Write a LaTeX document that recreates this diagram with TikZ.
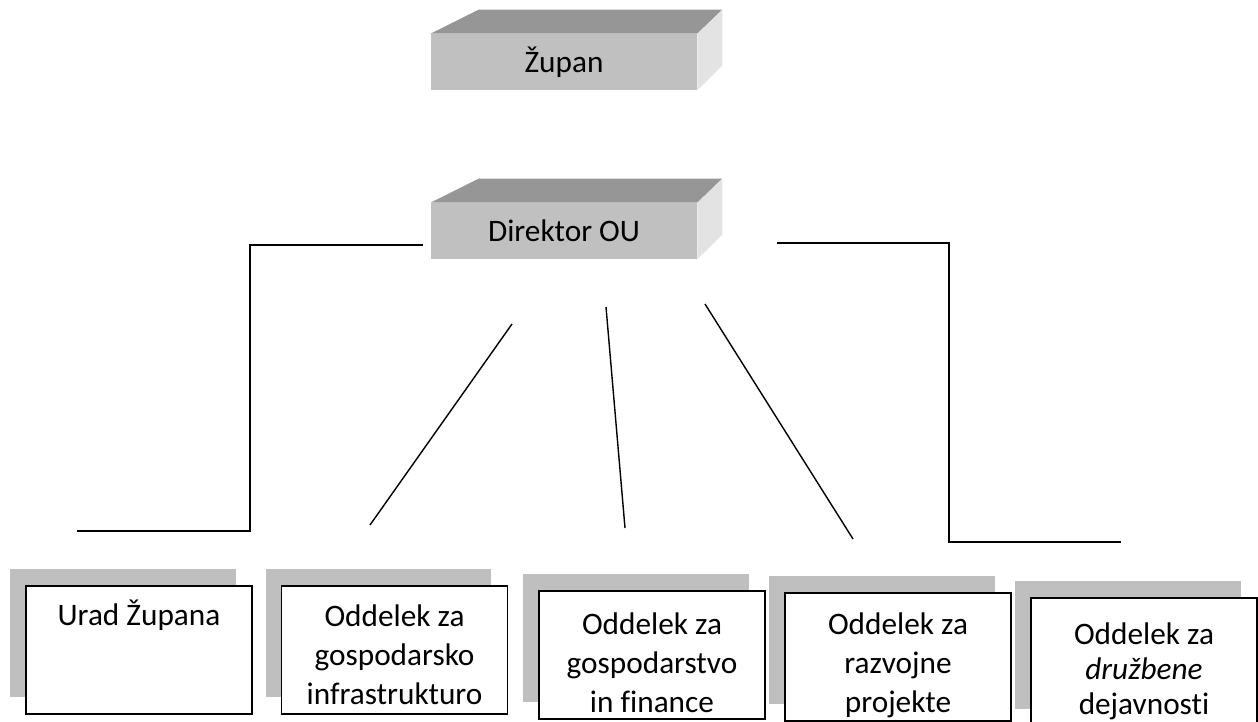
\documentclass[tikz,border=0pt]{standalone}
\usepackage{fontspec}
\setmainfont{Carlito}[Ligatures={NoCommon,NoContextual}]
\usetikzlibrary{shadows,calc}
\definecolor{frontgray}{HTML}{C0C0C0}
\definecolor{topgray}{HTML}{969696}
\definecolor{sidegray}{HTML}{E3E3E3}
\definecolor{shadowgray}{HTML}{BFBFBF}

\begin{document}
\begin{tikzpicture}[x=0.02cm, y=-0.02cm,
    bevel/.style = {fill=frontgray, minimum width=5.32cm, minimum height=1.12cm, inner sep=0pt, font=\fontsize{17.8}{22}\selectfont},
    dept/.style = {draw, line width=1.1pt, fill=white, minimum width=4.52cm, minimum height=2.56cm,
        general shadow={fill=shadowgray, shadow xshift=-0.32cm, shadow yshift=0.34cm}},
    depttext/.style = {anchor=north, align=center, inner sep=0pt, font=\fontsize{17.8}{22.2}\selectfont},
    bracket/.style = {line width=1.1pt},
    spoke/.style = {line width=0.8pt}]

    \useasboundingbox (0,0) rectangle (1258,722);

    % upper levels
    \node[bevel] (zupan) at (564,62) {Župan};
    \node[bevel] (direktor) at (564,231) {Direktor OU};
    \foreach \b in {zupan,direktor} {
        \fill[topgray] (\b.north west) -- ++(48,-24) -- ($(\b.north east)+(25,-24)$) -- (\b.north east) -- cycle;
        \fill[sidegray] (\b.north east) -- ++(25,-24) -- ++(0,56) -- (\b.south east) -- cycle;
    }

    % departments
    \node[dept] (urad) at (139,650) {};
    \node[dept] (gosinfra) at (394.5,650) {};
    \node[dept] (gosfin) at (652,655) {};
    \node[dept] (razvoj) at (898,657) {};
    \node[dept] (druzbene) at (1144,662) {};
    \node[depttext] (uradtxt) at ($(urad.north)+(0,15)$) {Urad Župana};
    \node[depttext] (gosinfratxt) at ($(gosinfra.north)+(0,19)$) {Oddelek za\\gospodarsko\\infrastrukturo};
    \node[depttext] (gosfintxt) at ($(gosfin.north)+(0,22)$) {Oddelek za\\gospodarstvo\\in finance};
    \node[depttext] (razvojtxt) at ($(razvoj.north)+(0,20)$) {Oddelek za\\razvojne\\projekte};
    \node[depttext, font=\fontsize{17.8}{20}\selectfont] (druzbenetxt) at ($(druzbene.north)+(0,25)$) {Oddelek za\\\textit{družbene}\\dejavnosti};

    % connector ends
    \coordinate (la) at (423,245);
    \coordinate (lb) at (250,531);
    \coordinate (lc) at (77,531);
    \coordinate (ra) at (777,243);
    \coordinate (rb) at (949,542);
    \coordinate (rc) at (1121,542);
    \coordinate (s1a) at (512,324);
    \coordinate (s1b) at (370,525);
    \coordinate (s2a) at (606,307);
    \coordinate (s2b) at (625,528);
    \coordinate (s3a) at (705,304);
    \coordinate (s3b) at (853,539);

    \draw[bracket] (la) -| (lb) -- (lc);
    \draw[bracket] (ra) -| (rb) -- (rc);
    \draw[spoke] (s1a) -- (s1b);
    \draw[spoke] (s2a) -- (s2b);
    \draw[spoke] (s3a) -- (s3b);
\end{tikzpicture}
\end{document}
